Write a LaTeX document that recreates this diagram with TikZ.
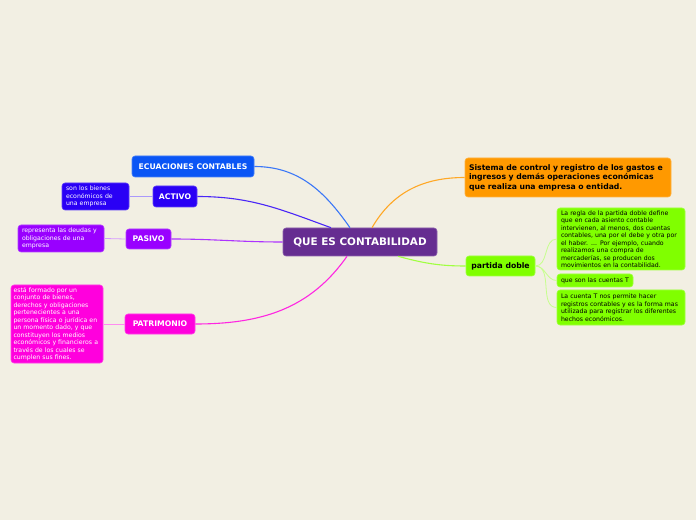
\documentclass[tikz,border=0pt]{standalone}
\usepackage{fontspec}
\setmainfont{DejaVu Sans}
\usetikzlibrary{positioning}
\definecolor{paper}{HTML}{F2EFE3}
\definecolor{rootc}{HTML}{662D91}
\definecolor{ecuac}{HTML}{0A55F5}
\definecolor{activoc}{HTML}{2A00F5}
\definecolor{pasivoc}{HTML}{9900FF}
\definecolor{patric}{HTML}{FF00DD}
\definecolor{sistc}{HTML}{FF9900}
\definecolor{partc}{HTML}{80FF00}
\tikzset{
  topic/.style={
    rounded corners=3pt, inner sep=0pt, line width=0.6pt,
    align=center, text=white, font=\fontsize{7.7}{9}\selectfont\bfseries
  },
  note/.style={
    rounded corners=3pt, inner xsep=4pt, inner ysep=2pt, line width=0.6pt,
    align=left, text=white, font=\fontsize{6.2}{7.5}\selectfont
  },
  branch/.style={line width=1.1pt},
  twig/.style={line width=0.8pt}
}
\begin{document}
\begin{tikzpicture}[x=1pt, y=1pt]
  \fill[paper] (0,0) rectangle (696,520);
  \useasboundingbox (0,0) rectangle (696,520);
  \node[topic, fill=rootc, draw=rootc!75!white, minimum width=154pt, minimum height=28pt,
        font=\fontsize{10.4}{12}\selectfont\bfseries] (root) at (360,278) {QUE ES CONTABILIDAD};
  \node[topic, fill=ecuac, draw=ecuac!75!white, minimum width=122pt, minimum height=21pt] (ecuaciones) at (193,353.5) {ECUACIONES CONTABLES};
  \node[topic, fill=activoc, draw=activoc!75!white, minimum width=44pt, minimum height=21pt] (activo) at (175,323.5) {ACTIVO};
  \node[note, fill=activoc, draw=activoc!75!white, text width=59pt, minimum height=27pt] (bienes) at (95.5,323.5) {son los bienes\\económicos de\\una empresa};
  \node[topic, fill=pasivoc, draw=pasivoc!75!white, minimum width=45pt, minimum height=20pt] (pasivo) at (148.5,281) {PASIVO};
  \node[note, fill=pasivoc, draw=pasivoc!75!white, text width=78pt, minimum height=27pt] (deudas) at (61,281.5) {representa las deudas y\\obligaciones de una\\empresa};
  \node[topic, fill=patric, draw=patric!75!white, minimum width=70pt, minimum height=20pt] (patrimonio) at (160,196) {PATRIMONIO};
  \node[note, fill=patric, draw=patric!75!white, text width=87pt, inner xsep=2.5pt, minimum height=78pt] (formado) at (57,196) {está formado por un\\conjunto de bienes,\\derechos y obligaciones\\pertenecientes a una\\persona física o jurídica en\\un momento dado, y que\\constituyen los medios\\económicos y financieros a\\través de los cuales se\\cumplen sus fines.};
  \node[note, fill=sistc, draw=sistc!75!white, text=black, text width=198pt, minimum height=39pt,
        font=\fontsize{7.7}{9.4}\selectfont\bfseries] (sistema) at (568,342.5) {Sistema de control y registro de los gastos e\\ingresos y demás operaciones económicas\\que realiza una empresa o entidad.};
  \node[topic, fill=partc, draw=partc!75!white, text=black, minimum width=69pt, minimum height=20pt] (partida) at (500.5,254) {partida doble};
  \node[note, fill=partc, draw=partc!75!white, text=black, text width=120pt, minimum height=62pt] (regla) at (621,281) {La regla de la partida doble define\\que en cada asiento contable\\intervienen, al menos, dos cuentas\\contables, una por el debe y otra por\\el haber. ... Por ejemplo, cuando\\realizamos una compra de\\mercaderías, se producen dos\\movimientos en la contabilidad.};
  \node[note, fill=partc, draw=partc!75!white, text=black, text width=68pt, minimum height=13pt, inner ysep=1pt] (cuentas) at (595,239.5) {que son las cuentas T};
  \node[note, fill=partc, draw=partc!75!white, text=black, text width=120pt, minimum height=35pt] (cuentat) at (621,212.5) {La cuenta T nos permite hacer\\registros contables y es la forma mas\\utilizada para registrar los diferentes\\hechos económicos.};
  \draw[branch, ecuac!80!white] ([xshift=-10pt]root.north) to[out=125, in=0] (ecuaciones.east);
  \draw[branch, activoc!85!white] ([xshift=-29pt]root.north) to[out=160, in=0] (activo.east);
  \draw[branch, pasivoc!80!white] (root.west) to[out=180, in=0] (pasivo.east);
  \draw[branch, patric!85!white] ([xshift=-13pt]root.south) to[out=235, in=0] (patrimonio.east);
  \draw[branch, sistc!85!white] ([xshift=12pt]root.north) to[out=60, in=180] (sistema.west);
  \draw[branch, partc!75!white] ([xshift=38pt]root.south) to[out=-15, in=180] (partida.west);
  \draw[twig, activoc!40!white] (activo.west) -- (bienes.east);
  \draw[twig, pasivoc!40!white] (pasivo.west) -- (deudas.east);
  \draw[twig, patric!45!white] (patrimonio.west) -- (formado.east);
  \draw[twig, partc!45!white] (partida.east) to[out=0, in=180] (regla.west);
  \draw[twig, partc!45!white] (partida.east) to[out=0, in=180] (cuentas.west);
  \draw[twig, partc!45!white] (partida.east) to[out=0, in=180] (cuentat.west);
\end{tikzpicture}
\end{document}
